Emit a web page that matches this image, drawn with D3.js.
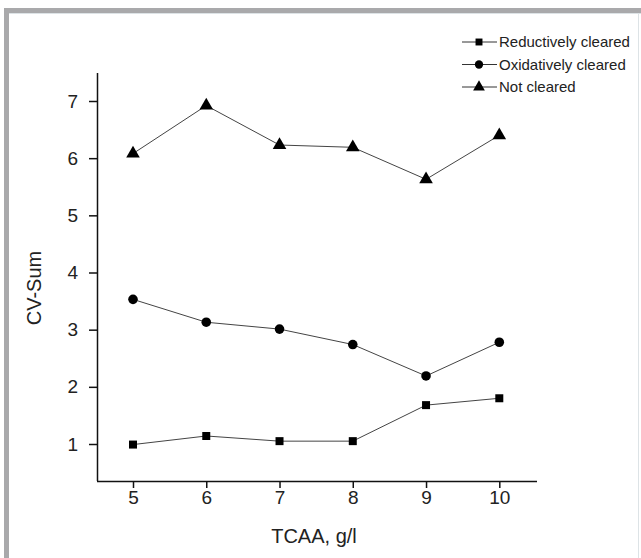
<!DOCTYPE html>
<html>
<head>
<meta charset="utf-8">
<script src="https://cdn.jsdelivr.net/npm/d3@7"></script>
<style>
  body { margin: 0; background: #fff; }
  text { font-family: "Liberation Sans", Arial, sans-serif; fill: #222; }
</style>
</head>
<body>
<script>
// data
var tcaa = [5, 6, 7, 8, 9, 10];
var reductively = [0.99, 1.14, 1.05, 1.05, 1.68, 1.8];
var oxidatively = [3.53, 3.13, 3.01, 2.74, 2.19, 2.78];
var notCleared = [6.08, 6.92, 6.23, 6.19, 5.63, 6.4];
var yTicks = [1, 2, 3, 4, 5, 6, 7];
var seriesNames = ["Reductively cleared", "Oxidatively cleared", "Not cleared"];
var seriesValues = [reductively, oxidatively, notCleared];
var symbols = [d3.symbolSquare, d3.symbolCircle, d3.symbolTriangle];
var symbolSizes = [64, 72, 80];

var w = 641, h = 558;
var svg = d3.select("body").append("svg")
  .attr("width", w)
  .attr("height", h);

// grey frame round the figure
svg.append("rect").attr("x", 0).attr("y", 0).attr("width", w).attr("height", h).attr("fill", "#fff");
svg.append("rect").attr("x", 4).attr("y", 8).attr("width", 5).attr("height", h - 8).attr("fill", "#a9a9ab");
svg.append("rect").attr("x", 4).attr("y", 8).attr("width", w - 4).attr("height", 5).attr("fill", "#a9a9ab");
svg.append("rect").attr("x", 9).attr("y", 13).attr("width", w - 9).attr("height", 1).attr("fill", "#dde3e6");
svg.append("rect").attr("x", 638).attr("y", 13).attr("width", 1).attr("height", h - 13).attr("fill", "#dde3e6");

var xScale = d3.scaleLinear().domain([5, 10]).range([133, 499.3]);
var yScale = d3.scaleLinear().domain([1, 7]).range([444, 101]);

// axes
var xAxis = d3.axisBottom(xScale).tickValues(tcaa).tickFormat(d3.format("d"))
  .tickSize(7).tickSizeOuter(0).tickPadding(3);
var gx = svg.append("g").attr("transform", "translate(0,481)").call(xAxis);
gx.select(".domain").attr("d", "M97,0.5H537");

var yAxis = d3.axisLeft(yScale).tickValues(yTicks).tickFormat(d3.format("d"))
  .tickSize(8).tickSizeOuter(0).tickPadding(11);
var gy = svg.append("g").attr("transform", "translate(97,0)").call(yAxis);
gy.select(".domain").attr("d", "M0.5,73V481");

svg.selectAll(".tick text")
  .style("font-family", "Liberation Sans, Arial, sans-serif")
  .style("font-size", "19px")
  .attr("fill", "#222");
svg.selectAll(".domain, .tick line").attr("stroke", "#111").attr("stroke-width", 1.5);

// axis titles
svg.append("text")
  .attr("x", 314)
  .attr("y", 543)
  .attr("text-anchor", "middle")
  .style("font-size", "20px")
  .text("TCAA, g/l");

svg.append("text")
  .attr("transform", "translate(41,288) rotate(-90)")
  .attr("text-anchor", "middle")
  .style("font-size", "20px")
  .text("CV-Sum");

// lines and markers
var line = d3.line()
  .x(function(d, i) { return xScale(tcaa[i]); })
  .y(function(d) { return yScale(d); });

seriesValues.forEach(function(vals, s) {
  svg.append("path")
    .attr("d", line(vals))
    .attr("fill", "none")
    .attr("stroke", "#444")
    .attr("stroke-width", 1);
  svg.selectAll(".m" + s)
    .data(vals)
    .enter().append("path")
    .attr("class", "m" + s)
    .attr("transform", function(d, i) { return "translate(" + xScale(tcaa[i]) + "," + yScale(d) + ")"; })
    .attr("d", d3.symbol().type(symbols[s]).size(symbolSizes[s]))
    .attr("fill", "#000");
});

// legend
seriesNames.forEach(function(name, s) {
  var ly = 42 + s * 22.5;
  svg.append("line")
    .attr("x1", 462).attr("x2", 497)
    .attr("y1", ly).attr("y2", ly)
    .attr("stroke", "#333").attr("stroke-width", 1);
  svg.append("path")
    .attr("transform", "translate(479," + ly + ")")
    .attr("d", d3.symbol().type(symbols[s]).size(symbolSizes[s] * 0.75))
    .attr("fill", "#000");
  svg.append("text")
    .attr("x", 499)
    .attr("y", ly + 5)
    .style("font-size", "15px")
    .text(name);
});
</script>
</body>
</html>
